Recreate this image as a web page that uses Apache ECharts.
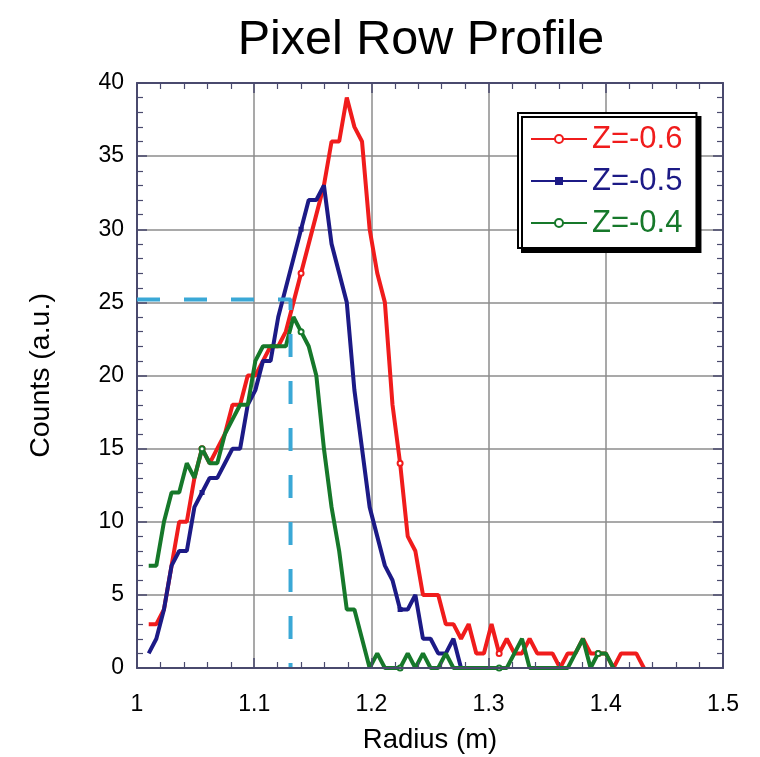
<!DOCTYPE html>
<html>
<head>
<meta charset="utf-8">
<script src="https://cdn.jsdelivr.net/npm/echarts@6/dist/echarts.min.js"></script>
<style>
  html, body { margin: 0; padding: 0; background: #ffffff; }
  #chart { width: 760px; height: 757px; }
</style>
</head>
<body>
<div id="chart"></div>
<script>
// Radius sample positions (m) along the pixel row
const radius = [
  1.0100, 1.0165, 1.0230, 1.0295, 1.0360, 1.0425, 1.0490, 1.0555, 1.0620, 1.0685,
  1.0750, 1.0815, 1.0880, 1.0945, 1.1010, 1.1075, 1.1140, 1.1205, 1.1270, 1.1335,
  1.1400, 1.1465, 1.1530, 1.1595, 1.1660, 1.1725, 1.1790, 1.1855, 1.1920, 1.1985,
  1.2050, 1.2115, 1.2180, 1.2245, 1.2310, 1.2375, 1.2440, 1.2505, 1.2570, 1.2635,
  1.2700, 1.2765, 1.2830, 1.2895, 1.2960, 1.3025, 1.3090, 1.3155, 1.3220, 1.3285,
  1.3350, 1.3415, 1.3480, 1.3545, 1.3610, 1.3675, 1.3740, 1.3805, 1.3870, 1.3935,
  1.4000, 1.4065, 1.4130, 1.4195, 1.4260, 1.4325
];

// Counts (a.u.) per slice
const countsZ06 = [
  3, 3, 4, 7, 10, 10, 13, 15, 14, 15,
  16, 18, 18, 20, 20, 21, 22, 22, 23, 25,
  27, 29, 31, 33, 36, 36, 39, 37, 36, 30,
  27, 25, 18, 14, 9, 8, 5, 5, 5, 3,
  3, 2, 3, 1, 1, 3, 1, 2, 1, 1,
  2, 1, 1, 1, 0, 1, 1, 2, 1, 1,
  1, 0, 1, 1, 1, 0
];
const countsZ05 = [
  1, 2, 4, 7, 8, 8, 11, 12, 13, 13,
  14, 15, 15, 18, 19, 21, 21, 24, 26, 28,
  30, 32, 32, 33, 29, 27, 25, 19, 15, 11,
  9, 7, 6, 4, 4, 5, 2, 2, 1, 1,
  2, 0
];
const countsZ04 = [
  7, 7, 10, 12, 12, 14, 13, 15, 14, 14,
  16, 17, 18, 18, 21, 22, 22, 22, 22, 24,
  23, 22, 20, 15, 11, 8, 4, 4, 2, 0,
  1, 0, 0, 0, 1, 0, 1, 0, 0, 1,
  0, 0, 0, 0, 0, 0, 0, 0, 1, 2,
  0, 0, 0, 0, 0, 0, 1, 2, 0, 1,
  1, 0
];

const seriesNames = ['Z=-0.6', 'Z=-0.5', 'Z=-0.4'];
const seriesValues = [countsZ06, countsZ05, countsZ04];
const seriesColors = ['#f01c1c', '#1c1a86', '#16782a'];
const seriesSymbols = ['emptyCircle', 'rect', 'emptyCircle'];

// Reference level: peak position of the outer slice
const guideRadius = 1.131;
const guideCounts = 25.2;

const xTicks = { min: 1, max: 1.5, interval: 0.1 };
const yTicks = { min: 0, max: 40, interval: 5 };

const font = 'Liberation Sans, Arial, Helvetica, sans-serif';
const axisColor = '#4a4a6e';
const gridColor = '#8c8c8c';

function pairs(values) {
  return values.map((v, i) => {
    const item = { value: [radius[i], v] };
    // sparse markers along each trace
    if (i % 13 !== 7) item.symbol = 'none';
    return item;
  });
}

const frameAxis = {
  axisLine: { show: true, onZero: false, lineStyle: { color: axisColor, width: 2 } },
  axisTick: { show: true, inside: true, length: 10, lineStyle: { color: axisColor, width: 1.5 } },
  minorTick: { show: true, splitNumber: 5, length: 6, lineStyle: { color: axisColor, width: 1.2 } },
  axisLabel: { show: false },
  splitLine: { show: false }
};

const chart = echarts.init(document.getElementById('chart'), null, { renderer: 'canvas' });

chart.setOption({
  backgroundColor: '#ffffff',
  animation: false,
  title: {
    text: 'Pixel Row Profile',
    left: 416,
    top: 11,
    textAlign: 'center',
    textStyle: { fontFamily: font, fontSize: 48.5, fontWeight: 'normal', color: '#000' }
  },
  grid: { left: 137, right: 37, top: 83, bottom: 89, containLabel: false, outerBoundsMode: 'none' },
  legend: {
    orient: 'vertical',
    left: 518,
    top: 113,
    itemWidth: 56,
    itemHeight: 10,
    itemGap: 10,
    padding: [10, 14, 9, 12],
    backgroundColor: '#ffffff',
    borderColor: '#000000',
    borderWidth: 2,
    shadowColor: '#000000',
    shadowBlur: 0,
    shadowOffsetX: 4,
    shadowOffsetY: 4,
    textStyle: { fontFamily: font, fontSize: 31, lineHeight: 32 },
    data: seriesNames.map((n, k) => ({ name: n, textStyle: { color: seriesColors[k] } }))
  },
  xAxis: [
    {
      type: 'value', ...xTicks, position: 'bottom',
      axisLine: { show: false, onZero: false },
      axisTick: { show: false },
      splitLine: { show: true, lineStyle: { color: gridColor, width: 1.5 } },
      axisLabel: { fontFamily: font, fontSize: 23, color: '#000', margin: 25 },
      name: 'Radius (m)', nameLocation: 'middle', nameGap: 58,
      nameTextStyle: { fontFamily: font, fontSize: 27.5, color: '#000' }
    },
    Object.assign({ type: 'value', ...xTicks, position: 'top' }, frameAxis),
    Object.assign({ type: 'value', ...xTicks, position: 'bottom', z: 10 }, frameAxis)
  ],
  yAxis: [
    Object.assign({ type: 'value', ...yTicks, position: 'left' }, frameAxis, {
      splitLine: { show: true, lineStyle: { color: gridColor, width: 1.5 } },
      axisLabel: { show: true, fontFamily: font, fontSize: 23, color: '#000', margin: 13 },
      name: 'Counts (a.u.)', nameLocation: 'middle', nameGap: 81,
      nameTextStyle: { fontFamily: font, fontSize: 28.5, color: '#000' }
    }),
    Object.assign({ type: 'value', ...yTicks, position: 'right' }, frameAxis)
  ],
  series: seriesNames.map((n, k) => ({
    name: n,
    type: 'line',
    xAxisIndex: 0,
    yAxisIndex: 0,
    data: pairs(seriesValues[k]),
    symbol: seriesSymbols[k],
    symbolSize: 5,
    showAllSymbol: true,
    color: seriesColors[k],
    itemStyle: { color: seriesColors[k], borderWidth: 1 },
    lineStyle: { color: seriesColors[k], width: 4 },
    z: 2 + k
  })).concat([{
    name: 'guide',
    type: 'line',
    xAxisIndex: 0,
    yAxisIndex: 0,
    data: [[xTicks.min, guideCounts], [guideRadius, guideCounts], [guideRadius, yTicks.min]],
    symbol: 'none',
    lineStyle: { color: '#3aa8d6', width: 4, type: [23, 24] },
    z: 6,
    silent: true
  }])
});
</script>
</body>
</html>
